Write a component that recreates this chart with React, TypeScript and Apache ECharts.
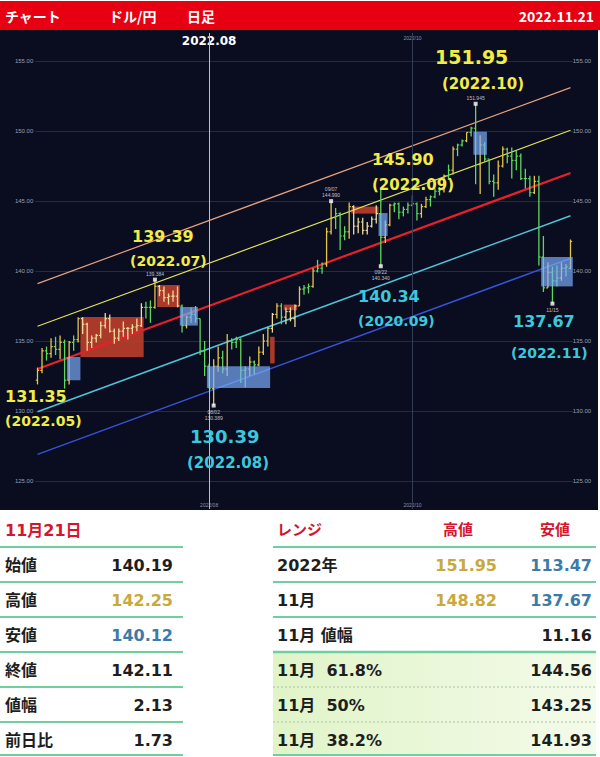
import React, { useEffect, useRef } from "react";
import * as echarts from "echarts";

// ---------- DATA ----------
const dates = ["6/8","6/9","6/10","6/13","6/14","6/15","6/16","6/17","6/20","6/21","6/22","6/23","6/24","6/27","6/28","6/29","6/30",
"7/1","7/4","7/5","7/6","7/7","7/8","7/11","7/12","7/13","7/14","7/15","7/18","7/19","7/20","7/21","7/22","7/25","7/26","7/27","7/28","7/29",
"8/1","8/2","8/3","8/4","8/5","8/8","8/9","8/10","8/11","8/12","8/15","8/16","8/17","8/18","8/19","8/22","8/23","8/24","8/25","8/26","8/29","8/30","8/31",
"9/1","9/2","9/5","9/6","9/7","9/8","9/9","9/12","9/13","9/14","9/15","9/16","9/19","9/20","9/21","9/22","9/23","9/26","9/27","9/28","9/29","9/30",
"10/3","10/4","10/5","10/6","10/7","10/10","10/11","10/12","10/13","10/14","10/17","10/18","10/19","10/20","10/21","10/24","10/25","10/26","10/27","10/28","10/31",
"11/1","11/2","11/3","11/4","11/7","11/8","11/9","11/10","11/11","11/14","11/15","11/16","11/17","11/18","11/21"];

// [open, high, low, close]
const ohlc = [
[132.2,133.1,131.9,132.9],[132.9,134.5,132.7,134.3],[134.3,134.6,133.6,134.1],[134.1,135.2,133.8,134.6],[134.6,135.3,134.0,134.4],
[134.4,135.4,133.7,134.9],[134.9,135.1,131.6,132.2],[132.2,135.0,131.9,134.9],[134.9,135.4,134.3,135.1],[135.1,136.7,134.9,136.6],
[136.6,136.7,135.5,136.2],[136.2,136.3,134.3,134.9],[134.9,135.4,134.5,135.2],[135.2,135.5,134.9,135.4],[135.4,136.4,135.2,136.1],
[136.1,137.0,135.9,136.6],[136.6,136.9,135.6,135.7],
[135.7,135.9,134.8,135.2],[135.2,135.9,135.0,135.7],[135.7,136.4,135.3,135.9],[135.9,136.0,135.1,135.9],[135.9,136.2,135.5,136.0],
[136.0,136.6,135.7,136.1],[136.1,137.7,136.0,137.4],[137.4,137.8,136.6,137.4],[137.4,137.9,136.3,137.4],[137.4,139.38,137.3,138.9],
[138.9,139.0,138.2,138.6],[138.6,138.9,137.8,138.1],[138.1,138.4,137.6,138.2],[138.2,138.6,137.8,138.2],[138.2,138.9,137.4,137.5],
[137.5,137.6,135.6,136.1],[136.1,136.8,135.9,136.7],[136.7,137.4,136.3,136.9],[136.9,137.5,136.3,136.6],[136.6,136.6,134.0,134.3],
[134.3,135.0,132.5,133.2],
[133.2,133.4,131.6,131.6],[131.6,133.7,130.39,133.2],[133.2,134.6,132.8,133.8],[133.8,134.3,132.7,133.0],[133.0,135.5,132.5,135.0],
[135.0,135.2,134.4,134.9],[134.9,135.3,134.5,135.1],[135.1,135.2,132.0,132.9],[132.9,133.2,131.7,133.0],[133.0,133.9,132.5,133.5],
[133.5,133.6,132.6,133.3],[133.3,134.6,133.2,134.2],[134.2,135.5,134.0,135.0],[135.0,136.0,134.6,135.9],[135.9,137.0,135.6,136.9],
[136.9,137.7,136.6,137.5],[137.5,137.7,136.2,136.7],[136.7,137.4,136.2,137.1],[137.1,137.4,136.4,136.6],[136.6,137.6,136.0,137.5],
[137.5,138.9,137.5,138.7],[138.7,139.0,138.3,138.8],[138.8,139.1,138.4,138.9],
[138.9,140.2,138.8,140.0],[140.0,140.8,139.9,140.2],[140.2,140.6,139.8,140.5],[140.5,143.1,140.3,142.8],[142.8,144.99,142.6,143.8],
[143.8,144.5,143.0,144.1],[144.1,144.2,141.5,142.5],[142.5,143.2,142.2,142.8],[142.8,144.9,142.3,144.6],[144.6,144.7,142.6,143.2],
[143.2,143.8,142.7,143.5],[143.5,143.8,142.6,142.9],[142.9,143.5,142.6,143.2],[143.2,143.9,143.1,143.7],[143.7,144.7,143.4,144.1],
[144.1,145.9,140.34,142.4],[142.4,143.6,142.0,143.3],[143.3,144.8,143.2,144.7],[144.7,144.9,144.2,144.8],[144.8,144.9,143.7,144.2],
[144.2,144.6,143.9,144.4],[144.4,144.9,144.1,144.7],
[144.7,145.4,144.6,144.8],[144.8,144.9,143.6,144.1],[144.1,144.8,143.8,144.6],[144.6,145.3,144.5,145.1],[145.1,145.4,144.6,145.3],
[145.3,145.9,145.2,145.7],[145.7,146.0,145.4,145.8],[145.8,146.9,145.6,146.8],[146.8,147.6,146.5,147.2],[147.2,148.9,146.9,148.7],
[148.7,149.1,148.2,149.0],[149.0,149.4,148.9,149.3],[149.3,149.9,149.2,149.9],[149.9,150.3,149.6,150.2],[150.2,151.95,146.2,147.6],
[147.6,149.7,145.5,149.0],[149.0,149.2,147.8,148.0],[148.0,148.0,146.2,146.4],[146.4,146.9,145.3,146.3],[146.3,147.9,145.8,147.5],
[147.5,148.9,147.4,148.7],
[148.7,148.8,147.7,148.2],[148.2,148.82,146.6,147.9],[147.9,148.6,147.2,148.2],[148.2,148.4,146.5,146.6],[146.6,147.3,145.9,146.6],
[146.6,146.8,145.3,145.6],[145.6,146.8,145.5,146.4],[146.4,146.8,140.4,141.0],[141.0,142.5,138.5,138.8],[138.8,140.6,138.8,139.9],
[139.9,140.3,137.67,139.3],[139.3,140.4,138.9,139.5],[139.5,140.6,139.3,140.2],[140.2,140.5,139.6,140.3],[140.19,142.25,140.12,142.11]
];

// regression channel: value at first and last bar (+2σ, +1σ, centre, -1σ, -2σ)
const channelStart = [139.1, 136.05, 133.0, 129.95, 126.9];
const channelEnd = [153.1, 150.05, 147.0, 143.95, 140.9];

// range boxes: [from, to, top, bottom, kind]
const rangeBoxes: [string, string, number, number, string][] = [
  ["6/17", "6/21", 133.86, 132.2, "low"],
  ["6/22", "7/11", 136.71, 133.86, "high"],
  ["7/15", "7/21", 139.0, 137.43, "high"],
  ["7/22", "7/27", 137.43, 136.1, "low"],
  ["8/1", "8/18", 133.2, 131.64, "low"],
  ["8/19", "8/19", 135.3, 133.4, "high"],
  ["8/24", "8/26", 137.6, 137.2, "high"],
  ["9/14", "9/21", 144.6, 144.1, "high"],
  ["9/22", "9/23", 144.14, 142.5, "low"],
  ["10/21", "10/25", 149.95, 148.3, "low"],
  ["11/11", "11/21", 141.0, 138.9, "low"],
];

// extreme points with their small tags
const extremes: [string, number, string, string][] = [
  ["7/14", 139.384, "139.384", "top"],
  ["8/2", 130.389, "08/02\n130.389", "bottom"],
  ["9/7", 144.99, "09/07\n144.990", "top"],
  ["9/22", 140.34, "09/22\n140.340", "bottom"],
  ["10/21", 151.945, "151.945", "top"],
  ["11/15", 137.67, "11/15", "bottom"],
];

// callouts: [price, period, tone]
const callouts: [string, string, string][] = [
  ["151.95", "(2022.10)", "hi"],
  ["145.90", "(2022.09)", "hi"],
  ["139.39", "(2022.07)", "hi"],
  ["131.35", "(2022.05)", "hi"],
  ["130.39", "(2022.08)", "lo"],
  ["140.34", "(2020.09)", "lo"],
  ["137.67", "(2022.11)", "lo"],
];

const headerTexts = ["チャート", "ドル/円", "日足"];
const headerDate = "2022.11.21";
const monthLines: [string, string, string][] = [["8/1", "2022.08", "2022/08"], ["10/3", "2022/10", "2022/10"]];

const dayTitle = "11月21日";
const dayLabels = ["始値", "高値", "安値", "終値", "値幅", "前日比"];
const dayValues = [140.19, 142.25, 140.12, 142.11, 2.13, 1.73];

const rangeHeader = ["レンジ", "高値", "安値"];
const rangeLabels = ["2022年", "11月", "11月 値幅", "11月  61.8%", "11月  50%", "11月  38.2%"];
const rangeHighs: (number | null)[] = [151.95, 148.82, null, null, null, null];
const rangeLows = [113.47, 137.67, 11.16, 144.56, 143.25, 141.93];

// ---------- LAYOUT / STYLE ----------
const W = 600, H = 757;
const GRID = { left: 35.24, right: 27.24, top: 33, bottom: 248 };
const Y_MIN = 123, Y_MAX = 157;
const BG = "#0a0c1f";
const YELLOW = "#f0ec48";
const CYAN = "#3cc8dc";
const GOLD = "#c9a83c";
const BLUE = "#3d7aa8";
const RED_T = "#d4152f";
const TFONT = '"DejaVu Sans", "Noto Sans CJK JP", sans-serif';
const CHANNEL_STYLE = [
  { color: "#e4a07c", width: 1.2 },
  { color: "#e0e25a", width: 1.2 },
  { color: "#e8202a", width: 2.2 },
  { color: "#4ec3d6", width: 1.5 },
  { color: "#3553d8", width: 1.5 },
];
const CALLOUT_LAYOUT = [
  { x: 435, y: 57, s: 19, x2: 442, y2: 84, s2: 15 },
  { x: 372, y: 159, s: 16, x2: 372, y2: 185, s2: 15 },
  { x: 132, y: 236, s: 16, x2: 130, y2: 261, s2: 14 },
  { x: 5, y: 396, s: 16, x2: 5, y2: 421, s2: 14 },
  { x: 190, y: 436, s: 18, x2: 187, y2: 463, s2: 15 },
  { x: 358, y: 296, s: 16, x2: 358, y2: 321, s2: 14 },
  { x: 513, y: 321, s: 16, x2: 511, y2: 353, s2: 14 },
];

function boxOf(i: number): string | null {
  for (const b of rangeBoxes) {
    const s = dates.indexOf(b[0]);
    const e = dates.indexOf(b[1]);
    if (i >= s && i <= e) return b[4];
  }
  return null;
}

function barColor(i: number): string {
  const [o, , , c] = ohlc[i];
  if (boxOf(i) === "high") return "#ecdc9c";
  return c - o >= 0.5 ? "#e4c64a" : "#5fd85f";
}

function boxRender(fill: string) {
  return (params: any, api: any) => {
    const p1 = api.coord([api.value(0), api.value(2)]);
    const p2 = api.coord([api.value(1), api.value(3)]);
    const band = api.size([1, 0])[0];
    return {
      type: "rect",
      shape: { x: p1[0] - band / 2, y: p1[1], width: p2[0] - p1[0] + band, height: p2[1] - p1[1] },
      style: { fill },
    };
  };
}

function txt(x: number, y: number, text: string, size: number, fill: string, align = "left", weight = "bold", family = TFONT, z = 50) {
  return {
    type: "text",
    x, y, z,
    style: {
      text, fill,
      font: `${weight} ${size}px ${family}`,
      textAlign: align, textVerticalAlign: "middle",
      align, verticalAlign: "middle",
    },
  };
}

function hline(x1: number, x2: number, y: number, stroke: string, lineWidth: number, dash?: number[]) {
  return {
    type: "line",
    z: 5,
    shape: { x1, y1: y, x2, y2: y },
    style: { stroke, lineWidth, lineDash: dash },
  };
}

function buildGraphics() {
  const g: any[] = [];
  // header
  g.push({ type: "rect", z: -100, shape: { x: 0, y: 0, width: W, height: H }, style: { fill: "#ffffff" } });
  g.push({ type: "rect", z: -90, shape: { x: 0, y: 1, width: W, height: 29 }, style: { fill: "#e60012" } });
  const hx = [5, 109, 187];
  headerTexts.forEach((t, i) => g.push(txt(hx[i], 16, t, 14, "#ffffff", "left", "bold", '"Noto Sans CJK JP", sans-serif')));
  g.push(txt(594, 16, headerDate, 14, "#ffffff", "right", "bold", '"Noto Sans CJK JP", sans-serif'));
  // dark chart area
  g.push({ type: "rect", z: -90, shape: { x: 0, y: 30, width: 598, height: 480 }, style: { fill: BG } });

  // callouts
  callouts.forEach((c, i) => {
    const L = CALLOUT_LAYOUT[i];
    const col = c[2] === "hi" ? YELLOW : CYAN;
    g.push(txt(L.x, L.y, c[0], L.s, col, "left", "bold", '"DejaVu Sans", sans-serif', 60));
    g.push(txt(L.x2, L.y2, c[1], L.s2, col, "left", "bold", '"DejaVu Sans", sans-serif', 60));
  });

  // left table
  const rowY0 = 547, rowH = 35;
  g.push(txt(5, 530, dayTitle, 16, RED_T));
  for (let k = 0; k <= 6; k++) {
    const y = k === 6 ? 755 : rowY0 + k * rowH;
    g.push(hline(0, 183, y, "#6fcf9f", 2));
  }
  dayLabels.forEach((lab, i) => {
    const y = rowY0 + i * rowH + 18;
    g.push(txt(5, y, lab, 16, "#1e1e1e"));
    const col = i === 1 ? GOLD : i === 2 ? BLUE : "#1e1e1e";
    g.push(txt(173, y, dayValues[i].toFixed(2), 16, col, "right"));
  });

  // right table
  const rx1 = 273, rx2 = 596;
  g.push({
    type: "rect", z: 1,
    shape: { x: rx1, y: 652, width: rx2 - rx1, height: 103 },
    style: {
      fill: new echarts.graphic.LinearGradient(0, 0, 1, 0, [
        { offset: 0, color: "#e0f4c8" },
        { offset: 1, color: "#f4fbea" },
      ]),
    },
  });
  g.push(txt(277, 530, rangeHeader[0], 15, RED_T));
  g.push(txt(458, 530, rangeHeader[1], 15, RED_T, "center"));
  g.push(txt(555, 530, rangeHeader[2], 15, RED_T, "center"));
  for (let k = 0; k <= 6; k++) {
    const y = k === 6 ? 755 : rowY0 + k * rowH;
    if (k === 4 || k === 5) g.push(hline(rx1, rx2, y, "#a9c4a4", 1, [2, 2]));
    else g.push(hline(rx1, rx2, y, "#6fcf9f", k === 3 ? 2.5 : 2));
  }
  rangeLabels.forEach((lab, i) => {
    const y = rowY0 + i * rowH + 18;
    g.push(txt(277, y, lab, 16, "#1e1e1e"));
    const hv = rangeHighs[i];
    if (hv !== null) g.push(txt(497, y, hv.toFixed(2), 16, GOLD, "right"));
    g.push(txt(592, y, rangeLows[i].toFixed(2), 16, i < 2 ? BLUE : "#1e1e1e", "right"));
  });
  return g;
}

function buildOption(): any {
  const last = dates.length - 1;
  const highBoxes = rangeBoxes.filter((b) => b[4] === "high").map((b) => [dates.indexOf(b[0]), dates.indexOf(b[1]), b[2], b[3]]);
  const lowBoxes = rangeBoxes.filter((b) => b[4] === "low").map((b) => [dates.indexOf(b[0]), dates.indexOf(b[1]), b[2], b[3]]);
  const monthIdx = monthLines.map((m) => m[0]);

  const yAxisBase = {
    type: "value",
    min: Y_MIN,
    max: Y_MAX,
    splitNumber: 7,
    axisLine: { show: false },
    axisTick: { show: false },
    axisLabel: {
      fontSize: 6,
      color: "#9aa0ae",
      formatter: (v: number) => v.toFixed(2),
      showMinLabel: false,
      showMaxLabel: false,
    },
  };

  return {
    animation: false,
    backgroundColor: "#ffffff",
    graphic: { elements: buildGraphics() },
    grid: { ...GRID, containLabel: false },
    xAxis: [
      {
        type: "category",
        data: dates,
        position: "bottom",
        boundaryGap: true,
        axisLine: { show: false },
        axisTick: { show: false },
        splitLine: { show: false },
        axisLabel: {
          inside: true,
          margin: 2,
          fontSize: 5,
          color: "#8a93a6",
          interval: (i: number, v: string) => monthIdx.indexOf(v) >= 0,
          formatter: (v: string) => {
            const m = monthLines.find((x) => x[0] === v);
            return m ? m[2] : "";
          },
        },
      },
      {
        type: "category",
        data: dates,
        position: "top",
        boundaryGap: true,
        axisLine: { show: false },
        axisTick: { show: false },
        splitLine: { show: false },
        axisLabel: {
          inside: true,
          margin: 2,
          interval: (i: number, v: string) => monthIdx.indexOf(v) >= 0,
          formatter: (v: string) => {
            const m = monthLines.find((x) => x[0] === v);
            if (!m) return "";
            return v === monthIdx[0] ? `{a|${m[1]}}` : `{b|${m[1]}}`;
          },
          rich: {
            a: { color: "#ffffff", fontSize: 12, fontWeight: "bold", fontFamily: '"DejaVu Sans", sans-serif' },
            b: { color: "#8a93a6", fontSize: 5 },
          },
        },
      },
    ],
    yAxis: [
      {
        ...yAxisBase,
        position: "left",
        axisLabel: { ...yAxisBase.axisLabel, margin: 2 },
        splitLine: { show: true, showMinLine: false, showMaxLine: false, lineStyle: { color: "#262b3d", width: 1 } },
      },
      {
        ...yAxisBase,
        position: "right",
        axisLabel: { ...yAxisBase.axisLabel, margin: 0 },
        splitLine: { show: false },
      },
    ],
    series: [
      {
        type: "custom",
        name: "highBoxes",
        z: 1,
        renderItem: boxRender("rgba(186,62,42,0.92)"),
        encode: { x: [0, 1], y: [2, 3] },
        data: highBoxes,
        silent: true,
      },
      ...channelStart.map((s, k) => ({
        type: "line",
        z: 2,
        showSymbol: false,
        silent: true,
        lineStyle: { color: CHANNEL_STYLE[k].color, width: CHANNEL_STYLE[k].width },
        data: [[0, s], [last, channelEnd[k]]],
      })),
      {
        type: "custom",
        name: "ohlc",
        z: 3,
        encode: { x: 0, y: [1, 2, 3, 4] },
        data: ohlc.map((d, i) => [i, ...d]),
        renderItem: (params: any, api: any) => {
          const i = api.value(0);
          const pH = api.coord([i, api.value(2)]);
          const pL = api.coord([i, api.value(3)]);
          const pO = api.coord([i, api.value(1)]);
          const pC = api.coord([i, api.value(4)]);
          const color = barColor(params.dataIndex);
          const t = 1.7;
          return {
            type: "group",
            children: [
              { type: "line", shape: { x1: pH[0], y1: pH[1], x2: pL[0], y2: pL[1] }, style: { stroke: color, lineWidth: 1.3 } },
              { type: "line", shape: { x1: pO[0] - t, y1: pO[1], x2: pO[0], y2: pO[1] }, style: { stroke: color, lineWidth: 1.2 } },
              { type: "line", shape: { x1: pC[0], y1: pC[1], x2: pC[0] + t, y2: pC[1] }, style: { stroke: color, lineWidth: 1.2 } },
            ],
          };
        },
        markLine: {
          silent: true,
          symbol: "none",
          label: { show: false },
          data: [
            { xAxis: monthLines[0][0], lineStyle: { color: "#a6c4e6", width: 1, type: "solid" } },
            { xAxis: monthLines[1][0], lineStyle: { color: "#353c55", width: 1, type: "solid" } },
          ],
        },
      },
      {
        type: "custom",
        name: "lowBoxes",
        z: 4,
        renderItem: boxRender("rgba(126,177,255,0.68)"),
        encode: { x: [0, 1], y: [2, 3] },
        data: lowBoxes,
        silent: true,
      },
      {
        type: "scatter",
        z: 5,
        symbol: "rect",
        symbolSize: 4,
        itemStyle: { color: "#ffffff" },
        data: extremes.map((e) => ({
          value: [dates.indexOf(e[0]), e[1]],
          label: {
            show: true,
            position: e[3],
            distance: 1,
            formatter: e[2],
            fontSize: 5,
            lineHeight: 6,
            color: "#e6e6f0",
          },
        })),
      },
    ],
  };
}

export default function App() {
  const ref = useRef<HTMLDivElement>(null);
  useEffect(() => {
    if (!ref.current) return;
    const chart = echarts.init(ref.current, null, { renderer: "svg" });
    chart.setOption(buildOption());
    return () => chart.dispose();
  }, []);
  return <div ref={ref} style={{ position: "absolute", left: 0, top: 0, width: W, height: H }} />;
}
